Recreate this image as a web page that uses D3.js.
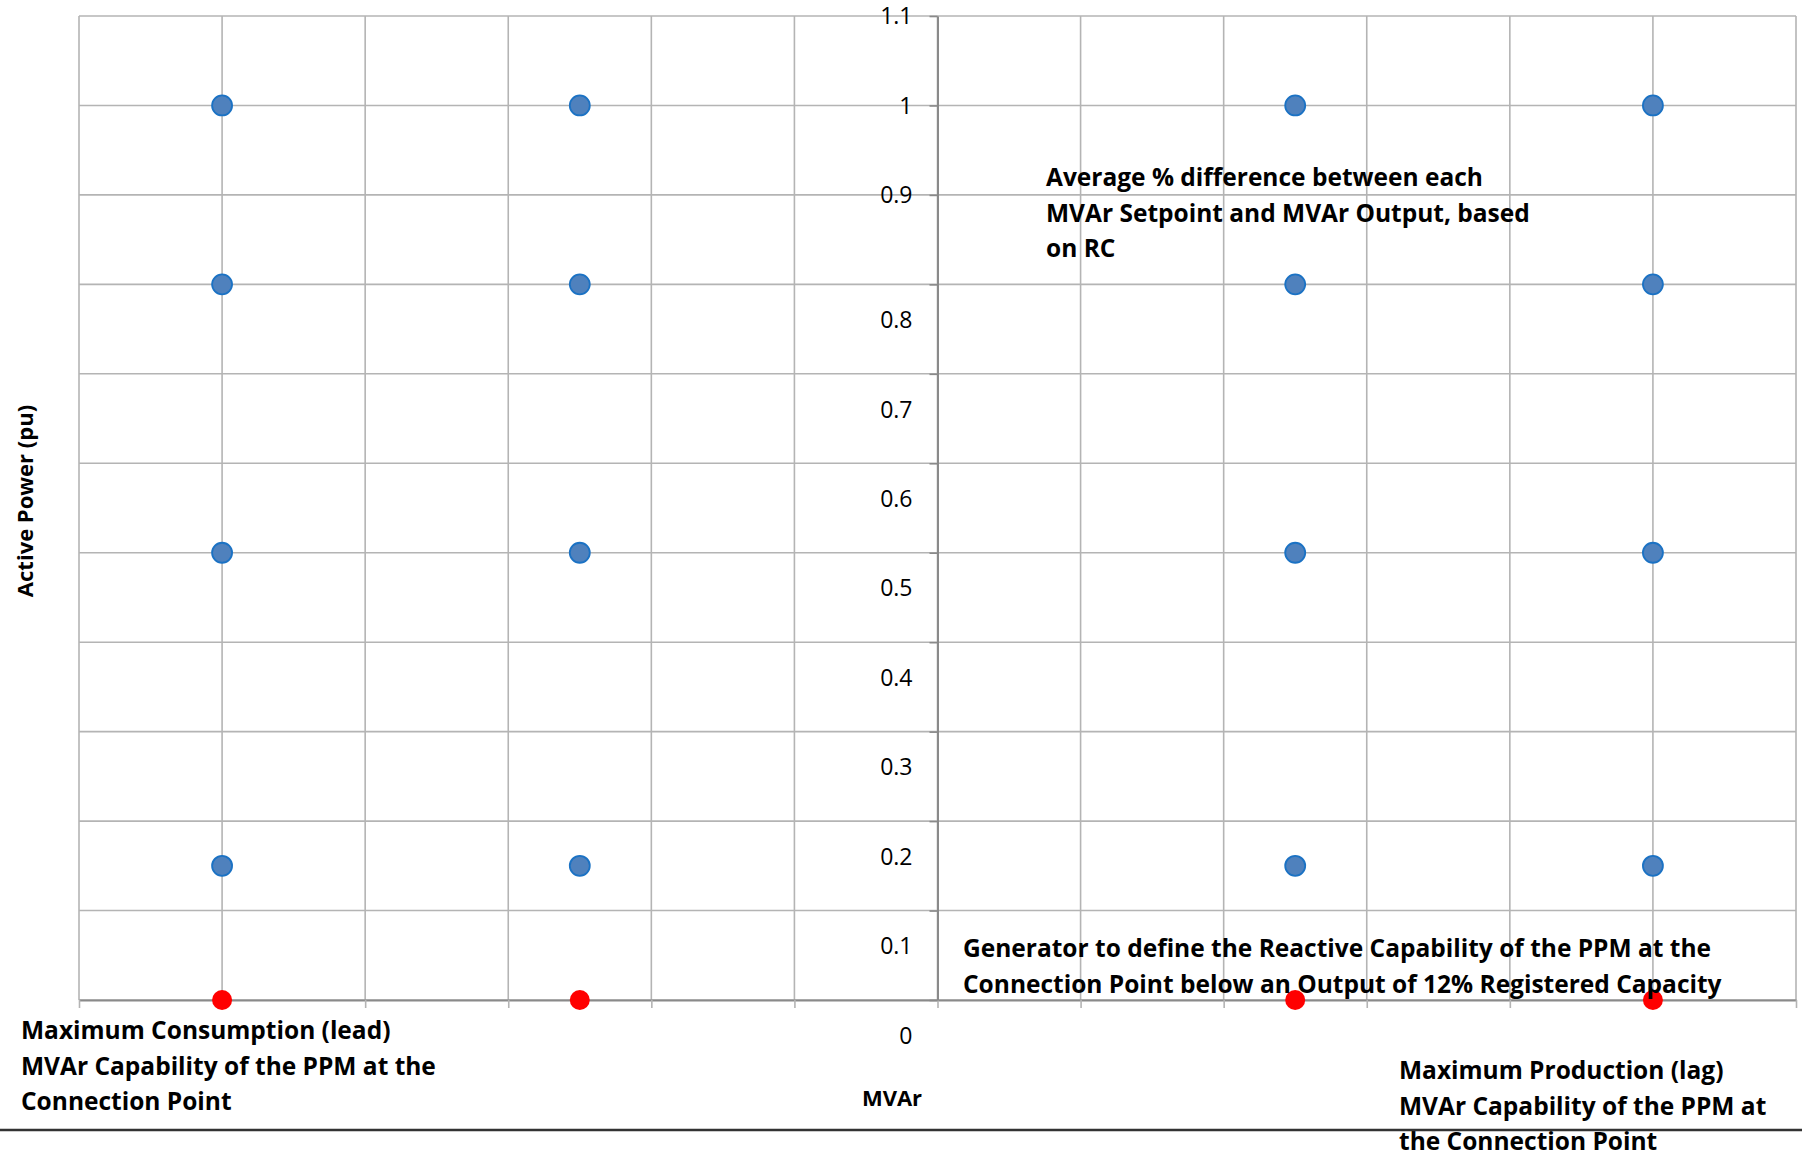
<!DOCTYPE html>
<html>
<head>
<meta charset="utf-8">
<script src="https://cdn.jsdelivr.net/npm/d3@7/dist/d3.min.js"></script>
<style>
  body { margin: 0; background: #fff; }
  text { font-family: "Open Sans", sans-serif; fill: #000; }
</style>
</head>
<body>
<svg id="chart"></svg>
<script>
// Diagramma della capability reattiva (MVAr vs potenza attiva)

const width = 1802;
const height = 1155;
const margin = {top: 16, right: 6, bottom: 155, left: 79};

// dati
const mvarPoints = [-1, -0.5, 0.5, 1];          // posizioni MVAr (pu della capability)
const activePower = [1, 0.8, 0.5, 0.15];        // punti blu
const lowOutput = [0];                          // punti rossi (sotto il 12%)
const xGrid = [-1.2, -1, -0.8, -0.6, -0.4, -0.2, 0, 0.2, 0.4, 0.6, 0.8, 1, 1.2];
const yTicks = [0, 0.1, 0.2, 0.3, 0.4, 0.5, 0.6, 0.7, 0.8, 0.9, 1, 1.1];
const yTickLabels = ["0", "0.1", "0.2", "0.3", "0.4", "0.5", "0.6", "0.7", "0.8", "0.9", "1", "1.1"];

const noteAverage = ["Average % difference between each", "MVAr Setpoint and MVAr Output, based", "on RC"];
const noteGenerator = ["Generator to define the Reactive Capability of the PPM at the", "Connection Point below an Output of 12% Registered Capacity"];
const noteLead = ["Maximum Consumption (lead)", "MVAr Capability of the PPM at the", "Connection Point"];
const noteLag = ["Maximum Production (lag)", "MVAr Capability of the PPM at", "the Connection Point"];

const svg = d3.select("#chart")
  .attr("width", width)
  .attr("height", height);

const x = d3.scaleLinear()
  .domain([-1.2, 1.2])
  .range([margin.left, width - margin.right]);

const y = d3.scaleLinear()
  .domain([0, 1.1])
  .range([height - margin.bottom, margin.top]);

const gridColor = "#b4b4b4";
const axisColor = "#8a8a8a";

// griglia verticale
svg.append("g")
  .selectAll("line")
  .data(xGrid)
  .join("line")
  .attr("x1", d => x(d)).attr("x2", d => x(d))
  .attr("y1", y(1.1)).attr("y2", y(0))
  .attr("stroke", gridColor)
  .attr("stroke-width", 1.6);

// griglia orizzontale
svg.append("g")
  .selectAll("line")
  .data(yTicks)
  .join("line")
  .attr("x1", x(-1.2)).attr("x2", x(1.2))
  .attr("y1", d => y(d)).attr("y2", d => y(d))
  .attr("stroke", gridColor)
  .attr("stroke-width", 1.6);

// asse x (in basso, solo tacche)
const xAxis = svg.append("g")
  .attr("transform", `translate(0,${y(0)})`)
  .call(d3.axisBottom(x).tickValues(xGrid).tickSize(8).tickSizeOuter(0).tickFormat(""));
xAxis.select(".domain").attr("stroke", axisColor).attr("stroke-width", 2);
xAxis.selectAll(".tick line").attr("stroke", gridColor).attr("stroke-width", 1.6);

// asse y al centro
const yAxis = svg.append("g")
  .attr("transform", `translate(${x(0)},0)`)
  .call(d3.axisLeft(y).tickValues(yTicks).tickSize(8).tickSizeOuter(0).tickPadding(17)
    .tickFormat((d, i) => yTickLabels[i]));
yAxis.select(".domain").attr("stroke", axisColor).attr("stroke-width", 2);
yAxis.selectAll(".tick line").attr("stroke", axisColor).attr("stroke-width", 1.6);
yAxis.selectAll(".tick text")
  .style("font-size", "23px")
  .style("font-family", "'Open Sans', sans-serif")
  .attr("fill", "#000")
  // nel grafico originale le etichette da 0.8 in giù sono spostate in basso
  .attr("dy", d => d <= 0.8 ? "1.88em" : "0.34em");

// punti blu
const bluePoints = [];
mvarPoints.forEach(q => {
  activePower.forEach(p => bluePoints.push({q: q, p: p}));
});

svg.append("g")
  .selectAll("circle")
  .data(bluePoints)
  .join("circle")
  .attr("cx", d => x(d.q))
  .attr("cy", d => y(d.p))
  .attr("r", 10)
  .attr("fill", "#4f81bd")
  .attr("stroke", "#1b72c4")
  .attr("stroke-width", 1.8);

// punti rossi
const redPoints = [];
mvarPoints.forEach(q => {
  lowOutput.forEach(p => redPoints.push({q: q, p: p}));
});

svg.append("g")
  .selectAll("circle")
  .data(redPoints)
  .join("circle")
  .attr("cx", d => x(d.q))
  .attr("cy", d => y(d.p))
  .attr("r", 10)
  .attr("fill", "#ff0000");

// testi delle note
function note(lines, left, top, size, lineH) {
  svg.append("text")
    .attr("x", left)
    .attr("y", top)
    .style("font-size", size + "px")
    .style("font-weight", "bold")
    .selectAll("tspan")
    .data(lines)
    .join("tspan")
    .attr("x", left)
    .attr("dy", (d, i) => i === 0 ? 0 : lineH)
    .text(d => d);
}

note(noteAverage, 1046, 186, 24.5, 35.5);
note(noteGenerator, 963, 957, 24.5, 35.5);
note(noteLead, 21, 1039, 24.5, 35.5);
note(noteLag, 1399, 1079, 24.5, 35.5);

// titoli degli assi
svg.append("text")
  .attr("x", 892)
  .attr("y", 1106)
  .attr("text-anchor", "middle")
  .style("font-size", "22px")
  .style("font-weight", "bold")
  .text("MVAr");

svg.append("text")
  .attr("transform", "translate(33,501) rotate(-90)")
  .attr("text-anchor", "middle")
  .style("font-size", "22px")
  .style("font-weight", "bold")
  .text("Active Power (pu)");

// riga di chiusura in basso
svg.append("line")
  .attr("x1", 0).attr("x2", width)
  .attr("y1", 1130).attr("y2", 1130)
  .attr("stroke", "#333")
  .attr("stroke-width", 2.5);
</script>
</body>
</html>
